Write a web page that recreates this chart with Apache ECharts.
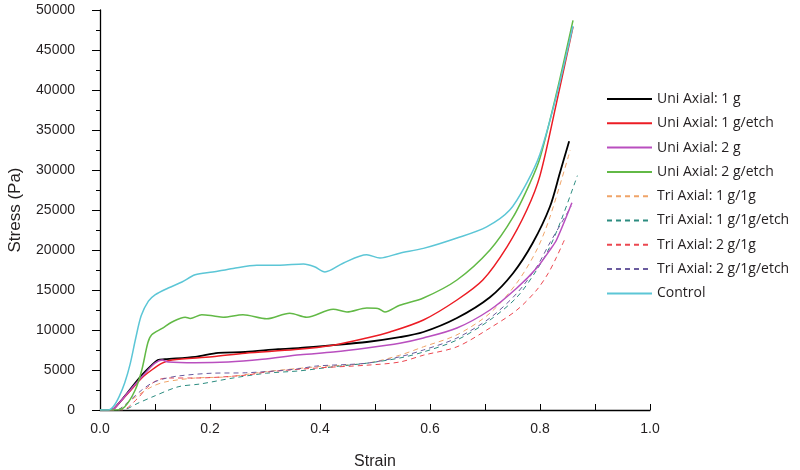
<!DOCTYPE html>
<html>
<head>
<meta charset="utf-8">
<script src="https://cdn.jsdelivr.net/npm/echarts@6/dist/echarts.min.js"></script>
<style>
  html, body { margin: 0; padding: 0; background: #fff; }
  #main { width: 800px; height: 470px; }
</style>
</head>
<body>
<div id="main"></div>
<script>
// strain / stress (Pa)
var uni1g = [[0, 0], [0.02, 0], [0.035, 900], [0.051, 2250], [0.076, 4350], [0.094, 5600], [0.105, 6250], [0.118, 6350],
  [0.173, 6650], [0.215, 7150], [0.264, 7250], [0.324, 7600], [0.364, 7750], [0.424, 8100], [0.485, 8500], [0.545, 9100],
  [0.588, 9750], [0.649, 11500], [0.709, 14100], [0.751, 17100], [0.787, 20900], [0.818, 25400], [0.836, 29600], [0.853, 33600]]
var uni1gEtch = [[0, 0], [0.021, 0], [0.035, 900], [0.051, 2100], [0.076, 4000], [0.094, 5000], [0.113, 5850], [0.131, 6250],
  [0.204, 6650], [0.264, 7100], [0.355, 7550], [0.424, 8100], [0.485, 9000], [0.527, 9750], [0.588, 11250], [0.649, 13750],
  [0.696, 16250], [0.74, 20400], [0.776, 25000], [0.8, 29300], [0.83, 38400], [0.86, 47900]]
var uni2g = [[0, 0], [0.02, 0], [0.035, 900], [0.051, 2200], [0.082, 4600], [0.1, 5850], [0.113, 6250], [0.124, 6000],
  [0.173, 5900], [0.233, 6000], [0.295, 6350], [0.364, 6900], [0.424, 7250], [0.485, 7750], [0.545, 8350], [0.588, 9000],
  [0.649, 10250], [0.709, 12500], [0.758, 15250], [0.794, 17750], [0.818, 20000], [0.83, 21250], [0.858, 25900]]
var uni2gEtch = [[0, 0], [0.03, 0], [0.045, 400], [0.064, 2500], [0.076, 5000], [0.087, 8400], [0.094, 9400], [0.113, 10200],
  [0.131, 11000], [0.155, 11600], [0.164, 11450], [0.185, 11900], [0.207, 11750], [0.224, 11600], [0.26, 11900], [0.303, 11400],
  [0.345, 12100], [0.376, 11600], [0.424, 12600], [0.449, 12250], [0.485, 12750], [0.505, 12700], [0.518, 12250], [0.545, 13100],
  [0.588, 14000], [0.649, 16250], [0.709, 20000], [0.751, 24100], [0.782, 28400], [0.8, 31500], [0.83, 39600], [0.86, 48700]]
var tri1g = [[0, 0], [0.03, 0], [0.045, 600], [0.064, 1600], [0.094, 2900], [0.118, 3500], [0.173, 4000], [0.233, 4150],
  [0.303, 4800], [0.394, 5400], [0.485, 5850], [0.545, 6850], [0.588, 7900], [0.649, 9400], [0.709, 12100], [0.758, 15900],
  [0.794, 20000], [0.818, 24100], [0.855, 32500]]
var tri1gEtch = [[0, 0], [0.04, 0], [0.069, 850], [0.094, 1600], [0.142, 2900], [0.182, 3250], [0.242, 4000], [0.303, 4600],
  [0.364, 4900], [0.424, 5400], [0.485, 5850], [0.545, 6500], [0.588, 7250], [0.649, 8750], [0.709, 11250], [0.758, 14100],
  [0.794, 17500], [0.818, 20400], [0.84, 24000], [0.868, 29300]]
var tri2g = [[0, 0], [0.04, 0], [0.069, 1500], [0.087, 2900], [0.105, 3750], [0.124, 4000], [0.173, 4000], [0.264, 4350],
  [0.303, 4750], [0.394, 5250], [0.485, 5600], [0.545, 6000], [0.588, 6850], [0.649, 7900], [0.709, 10250], [0.758, 12500],
  [0.794, 15000], [0.815, 17100], [0.83, 19100], [0.846, 21500]]
var tri2gEtch = [[0, 0], [0.03, 0], [0.051, 1000], [0.076, 2500], [0.094, 3350], [0.113, 3850], [0.142, 4250], [0.204, 4600],
  [0.264, 4650], [0.355, 5100], [0.394, 5500], [0.485, 5850], [0.545, 6650], [0.588, 7500], [0.649, 9000], [0.709, 11500],
  [0.758, 14600], [0.794, 17900], [0.818, 20900], [0.857, 25500]]
var control = [[0, 0], [0.015, 0], [0.025, 500], [0.035, 1700], [0.045, 3400], [0.055, 5800], [0.065, 9000], [0.075, 11800],
  [0.088, 13600], [0.1, 14400], [0.124, 15250], [0.149, 16000], [0.173, 16900], [0.205, 17250], [0.242, 17700], [0.285, 18100],
  [0.327, 18100], [0.37, 18250], [0.39, 17900], [0.409, 17250], [0.442, 18350], [0.485, 19400], [0.509, 19000], [0.545, 19600],
  [0.588, 20200], [0.649, 21500], [0.703, 22900], [0.745, 25000], [0.776, 28400], [0.8, 32000], [0.83, 39300], [0.86, 48000]]

var names = ['Uni Axial: 1 g', 'Uni Axial: 1 g/etch', 'Uni Axial: 2 g', 'Uni Axial: 2 g/etch',
  'Tri Axial: 1 g/1g', 'Tri Axial: 1 g/1g/etch', 'Tri Axial: 2 g/1g', 'Tri Axial: 2 g/1g/etch', 'Control']
var seriesData = [uni1g, uni1gEtch, uni2g, uni2gEtch, tri1g, tri1gEtch, tri2g, tri2gEtch, control]
var colors = ['#000000', '#ec1c24', '#b94fbf', '#62b946', '#f0a468', '#2c8c80', '#ec4750', '#6a5b9e', '#5cc6d6']
var dashed = [false, false, false, false, true, true, true, true, false]

var myChart = echarts.init(document.getElementById('main'))

var series = names.map(function (n, i) {
  return {
    name: n,
    type: 'line',
    data: seriesData[i],
    smooth: 0.3,
    symbol: 'none',
    z: dashed[i] ? 2 : 3,
    lineStyle: {
      color: colors[i],
      width: dashed[i] ? 1 : (i === 0 ? 1.8 : 1.5),
      type: dashed[i] ? [5, 4] : 'solid',
    },
    itemStyle: { color: colors[i] },
  }
})

myChart.setOption({
  animation: false,
  color: colors,
  grid: { left: 100, right: 150, top: 10, bottom: 60, outerBoundsMode: 'none', containLabel: false },
  legend: {
    orient: 'vertical',
    left: 601,
    top: 87,
    itemWidth: 45,
    itemHeight: 14,
    itemGap: 10.3,
    data: names,
    itemStyle: { opacity: 0 },
    textStyle: { fontFamily: 'Open Sans', fontSize: 14, color: '#231f20' },
  },
  xAxis: {
    type: 'value',
    min: 0,
    max: 1,
    interval: 0.2,
    name: 'Strain',
    nameLocation: 'middle',
    nameGap: 44,
    nameTextStyle: { fontFamily: 'Liberation Sans', fontSize: 16, color: '#231f20' },
    axisLine: { lineStyle: { color: '#000', width: 1.3 } },
    axisTick: { inside: true, length: 6, lineStyle: { color: '#000' } },
    minorTick: { show: true, splitNumber: 2, length: 6, lineStyle: { color: '#000' } },
    axisLabel: {
      margin: 12,
      fontFamily: 'Liberation Sans',
      fontSize: 14,
      color: '#231f20',
      formatter: function (v) { return v.toFixed(1) },
    },
    splitLine: { show: false },
  },
  yAxis: {
    type: 'value',
    min: 0,
    max: 50000,
    interval: 5000,
    name: 'Stress (Pa)',
    nameLocation: 'middle',
    nameGap: 76,
    nameTextStyle: { fontFamily: 'Liberation Sans', fontSize: 17, color: '#231f20' },
    axisLine: { show: true, lineStyle: { color: '#000', width: 1.3 } },
    axisTick: { show: true, length: 8, lineStyle: { color: '#000' } },
    minorTick: { show: true, splitNumber: 2, length: 4, lineStyle: { color: '#000' } },
    axisLabel: {
      margin: 25,
      fontFamily: 'Liberation Sans',
      fontSize: 14,
      color: '#231f20',
      formatter: function (v) { return String(v) },
    },
    splitLine: { show: false },
  },
  series: series,
})
</script>
</body>
</html>
